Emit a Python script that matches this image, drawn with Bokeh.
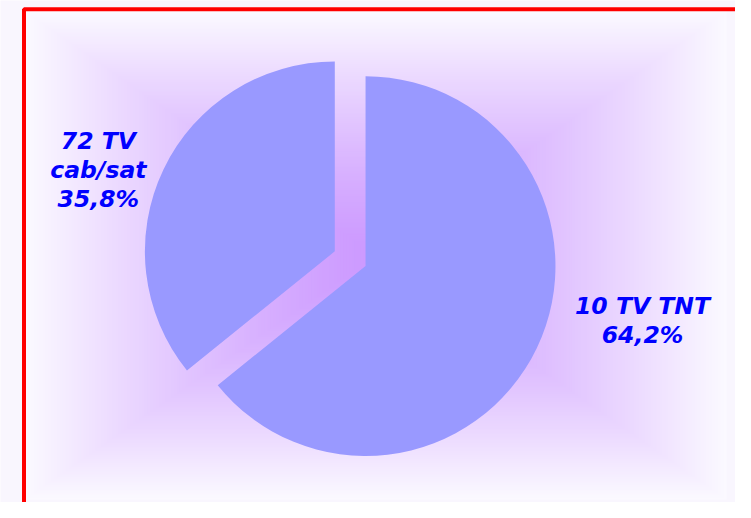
import numpy as np
from bokeh.plotting import figure
from bokeh.models import Range1d, ColumnDataSource
from bokeh.core.properties import value
from bokeh.embed import file_html
from bokeh.resources import INLINE

# ---- data ----
names = ["10 TV TNT", "72 TV\ncab/sat"]
shares = [64.2, 35.8]
pct_labels = ["64,2%", "35,8%"]
exploded = [0, 1]

# ---- layout ----
W, H = 735, 502
SX, SY = W / 751, H / 518
S = (SX + SY) / 2
def fx(x):  # reference x -> data x
    return x * SX
def fy(y):  # reference y -> data y
    return H - y * SY

p = figure(width=W, height=H, x_range=Range1d(0, W), y_range=Range1d(0, H),
           output_backend="svg", toolbar_location=None, min_border=0)
p.axis.visible = False
p.grid.visible = False
p.outline_line_color = None
p.background_fill_color = "#F9F6FE"
p.border_fill_color = "#F9F6FE"

# background rectangular glow gradient
gl, gr, gt, gb = fx(25), fx(742), fy(11), fy(515)
gcx, gcy = (gl + gr) / 2, (gt + gb) / 2
hw, hh = (gr - gl) / 2, (gt - gb) / 2
d = np.linspace(1.0, 0.01, 120)
t = 1 - d ** 1.3
E = np.array([251, 249, 255])
C = np.array([204, 153, 255])
cols = ["#%02x%02x%02x" % tuple(np.round(E + (C - E) * ti).astype(int)) for ti in t]
p.quad(left=gcx - hw * d, right=gcx + hw * d, top=gcy + hh * d, bottom=gcy - hh * d,
       fill_color=cols, line_color=None)

# pie
cx, cy, R, EXP = fx(373), fy(274), 195 * S, 35 * S
vals = np.array(shares, dtype=float)
frac = vals / vals.sum()
cum = np.concatenate([[0], np.cumsum(frac)])
a_start = np.pi / 2 - 2 * np.pi * cum[:-1]
a_end = np.pi / 2 - 2 * np.pi * cum[1:]
mid = (a_start + a_end) / 2
ex = np.array(exploded)
xs = cx + EXP * ex * np.cos(mid)
ys = cy + EXP * ex * np.sin(mid)
src = ColumnDataSource(dict(x=xs, y=ys, s=a_end, e=a_start))
p.wedge(x="x", y="y", radius=R, start_angle="s", end_angle="e", source=src,
        fill_color="#9999FF", line_color=None)

# labels
label_x = [fx(656), fx(100)]
label_y = [fy(330), fy(175)]
texts = [f"{n}\n{q}" for n, q in zip(names, pct_labels)]
p.text(x=label_x, y=label_y, text=texts, text_align="center", text_baseline="middle",
       text_font=value("DejaVu Sans"), text_font_style="bold italic",
       text_font_size="23.5px", text_color="#0000FF", text_line_height=1.05)

# red frame
p.quad(left=fx(24), right=fx(900), top=fy(9), bottom=fy(900),
       fill_color=None, line_color="#FF0000", line_width=4)

open("out.html", "w").write(file_html(p, INLINE))
